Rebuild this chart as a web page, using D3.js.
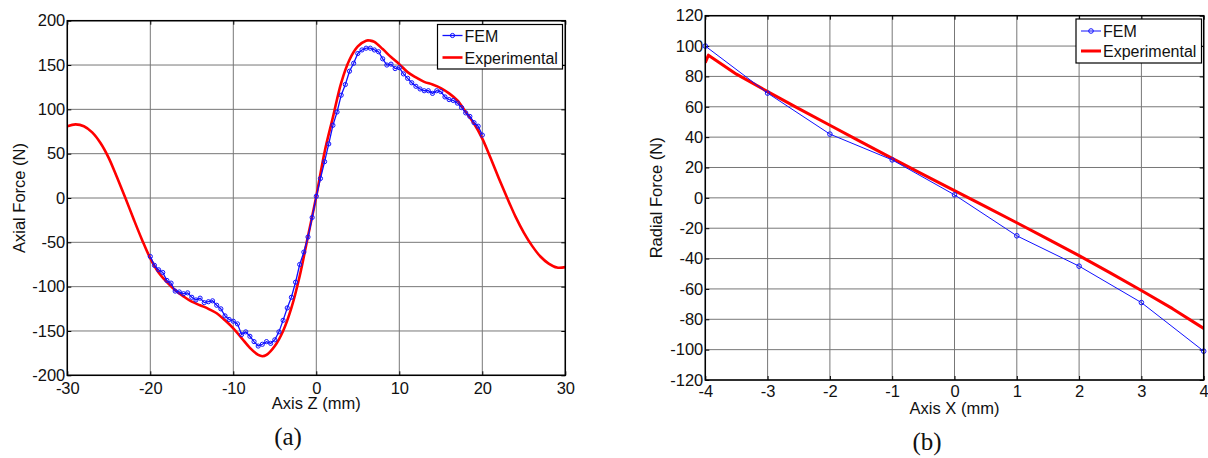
<!DOCTYPE html>
<html>
<head>
<meta charset="utf-8">
<script src="https://cdn.jsdelivr.net/npm/d3@7/dist/d3.min.js"></script>
<style>
  html, body { margin: 0; padding: 0; background: #fff; }
  svg { display: block; }
  text { font-family: "Liberation Sans", Arial, sans-serif; fill: #111; }
</style>
</head>
<body>
<svg id="chart" width="1208" height="458"></svg>
<script>
// ---------- Data ----------
const femAxialZ = [-20,-19.5,-19,-18.5,-18,-17.5,-17,-16.5,-16,-15.5,-15,-14.5,-14,-13.5,-13,-12.5,-12,-11.5,-11,-10.5,
  -10,-9.5,-9,-8.5,-8,-7.5,-7,-6.5,-6,-5.5,-5,-4.5,-4,-3.5,-3,-2.5,-2,-1.5,-1,-0.5,
  0,0.5,1,1.5,2,2.5,3,3.5,4,4.5,5,5.5,6,6.5,7,7.5,8,8.5,9,9.5,
  10,10.5,11,11.5,12,12.5,13,13.5,14,14.5,15,15.5,16,16.5,17,17.5,18,18.5,19,19.5,20];
const femAxialF = [-66,-76,-81,-84,-93,-96,-105,-106,-108,-107,-112,-115,-113,-118,-117,-116,-121,-125,-133,-137,
  -139,-142,-154,-151,-156,-162,-167,-165,-162,-164,-160,-151,-138,-124,-112,-95,-75,-61,-44,-22,
  2,22,41,61,82,97,116,128,143,152,163,167,169,169,167,165,157,150,151,146,
  147,140,135,130,126,123,121,121,118,121,120,114,111,110,107,102,96,92,85,81,71];

const expAxialZ = [-30,-29,-28,-27,-26,-25,-24,-23,-22,-21,-20,-19,-18,-17,-16,-15,-14,-13,-12,-11,-10,-9,-8,-7,-6.5,-6,-5,-4,-3,-2,-1,
  0,1,2,3,4,5,6,6.5,7,8,9,10,11,12,13,14,15,16,17,18,19,20,21,22,23,24,25,26,27,28,29,30];
const expAxialF = [81,83,81,74,62,45,23,0,-24,-47,-68,-84,-95,-104,-111,-117,-121,-125,-130,-138,-147,-158,-169,-177,-178.5,-177,-167,-150,-124,-88,-43,
  2,52,91,130,156,171,177.5,177.5,176,168,159,151,142,136,131,128,124,118,110,97,84,67,45,22,0,-21,-39,-54,-66,-74,-78.5,-78];

const femRadialX = [-4,-3,-2,-1,0,1,2,3,4];
const femRadialF = [100,69,42,25,2,-25,-45,-69,-101];

const expRadialX = [-4,-3.95,-3.5,-3,-2.5,-2,-1.5,-1,-0.5,0,0.5,1,1.5,2,2.5,3,3.5,4];
const expRadialF = [89,94,81.5,70,58.8,47.8,36.9,26,15.3,4.8,-5.8,-16.4,-27.2,-38.1,-49.4,-61,-73,-86];

const axialXTicks = [-30,-20,-10,0,10,20,30];
const axialYTicks = [-200,-150,-100,-50,0,50,100,150,200];
const radialXTicks = [-4,-3,-2,-1,0,1,2,3,4];
const radialYTicks = [-120,-100,-80,-60,-40,-20,0,20,40,60,80,100,120];

const seriesNames = ["FEM", "Experimental"];

// ---------- Drawing ----------
const svg = d3.select("#chart");
svg.append("rect").attr("width",1208).attr("height",458).attr("fill","#fff");
const plain = d => String(d);  // ASCII hyphen-minus, as in the reference

function panel(cfg) {
  const x = d3.scaleLinear().domain(cfg.xDomain).range(cfg.xRange);
  const y = d3.scaleLinear().domain(cfg.yDomain).range(cfg.yRange);
  const g = svg.append("g");
  const [x0, x1] = cfg.xRange, [y0, y1] = [cfg.yRange[1], cfg.yRange[0]];

  // grid
  g.append("g").selectAll("line").data(cfg.xTicks).join("line")
    .attr("x1", d => x(d)).attr("x2", d => x(d)).attr("y1", y0).attr("y2", y1)
    .attr("stroke", "#777").attr("stroke-width", 1);
  g.append("g").selectAll("line").data(cfg.yTicks).join("line")
    .attr("y1", d => y(d)).attr("y2", d => y(d)).attr("x1", x0).attr("x2", x1)
    .attr("stroke", "#777").attr("stroke-width", 1);

  // axes
  const fs = "16.5px";
  const bottom = g.append("g").attr("transform", `translate(0,${y1})`)
    .call(d3.axisBottom(x).tickValues(cfg.xTicks).tickFormat(plain).tickSizeInner(-4).tickSizeOuter(0).tickPadding(cfg.xPad));
  const left = g.append("g").attr("transform", `translate(${x0},0)`)
    .call(d3.axisLeft(y).tickValues(cfg.yTicks).tickFormat(plain).tickSizeInner(-4).tickSizeOuter(0).tickPadding(2));
  const top = g.append("g").attr("transform", `translate(0,${y0})`)
    .call(d3.axisTop(x).tickValues(cfg.xTicks).tickSizeInner(-4).tickSizeOuter(0).tickFormat(""));
  const right = g.append("g").attr("transform", `translate(${x1},0)`)
    .call(d3.axisRight(y).tickValues(cfg.yTicks).tickSizeInner(-4).tickSizeOuter(0).tickFormat(""));
  [bottom, left, top, right].forEach(a => {
    a.select(".domain").remove();
    a.selectAll(".tick line").attr("stroke", "#000").attr("stroke-width", 1);
    a.selectAll("text").attr("font-size", fs).attr("font-family", '"Liberation Sans", Arial, sans-serif').attr("fill", "#111");
  });

  // clip
  const clipId = "clip" + cfg.id;
  svg.append("clipPath").attr("id", clipId).append("rect")
    .attr("x", x0).attr("y", y0).attr("width", x1 - x0).attr("height", y1 - y0);
  const plot = g.append("g").attr("clip-path", `url(#${clipId})`);

  // experimental line
  const expData = cfg.expX.map((v, i) => [v, cfg.expF[i]]);
  plot.append("path").datum(expData)
    .attr("d", d3.line().x(d => x(d[0])).y(d => y(d[1])).curve(cfg.expCurve))
    .attr("fill", "none").attr("stroke", "#ff0000").attr("stroke-width", cfg.expWidth)
    .attr("stroke-linejoin", "round");

  // FEM line
  const femData = cfg.femX.map((v, i) => [v, cfg.femF[i]]);
  plot.append("path").datum(femData)
    .attr("d", d3.line().x(d => x(d[0])).y(d => y(d[1])))
    .attr("fill", "none").attr("stroke", "#1010ff").attr("stroke-width", cfg.femWidth);
  g.append("g").selectAll("circle").data(femData).join("circle")
    .attr("cx", d => x(d[0])).attr("cy", d => y(d[1])).attr("r", cfg.markR)
    .attr("fill", "none").attr("stroke", "#1010ff").attr("stroke-width", 1);

  // frame
  g.append("rect").attr("x", x0).attr("y", y0).attr("width", x1 - x0).attr("height", y1 - y0)
    .attr("fill", "none").attr("stroke", "#000").attr("stroke-width", 1.5);

  // axis labels
  g.append("text").attr("x", (x0 + x1) / 2).attr("y", cfg.xLabelY).attr("text-anchor", "middle")
    .attr("font-size", "16.5px").text(cfg.xLabel);
  g.append("text").attr("transform", `translate(${cfg.yLabelX},${(y0 + y1) / 2}) rotate(-90)`)
    .attr("text-anchor", "middle").attr("font-size", "16.5px").text(cfg.yLabel);

  // legend
  const L = cfg.legend;
  const lg = g.append("g");
  lg.append("rect").attr("x", L.x).attr("y", L.y).attr("width", L.w).attr("height", L.h)
    .attr("fill", "#fff").attr("stroke", "#000").attr("stroke-width", 1.2);
  const rows = [
    { name: seriesNames[0], color: "#1010ff", width: cfg.femWidth, marker: true },
    { name: seriesNames[1], color: "#ff0000", width: cfg.expWidth, marker: false }
  ];
  rows.forEach((r, i) => {
    const ly = L.y + L.row0 + i * L.rowGap;
    lg.append("line").attr("x1", L.x + 5).attr("x2", L.x + 25).attr("y1", ly).attr("y2", ly)
      .attr("stroke", r.color).attr("stroke-width", r.width);
    if (r.marker) lg.append("circle").attr("cx", L.x + 15).attr("cy", ly).attr("r", cfg.markR)
      .attr("fill", "none").attr("stroke", r.color).attr("stroke-width", 1);
    lg.append("text").attr("x", L.x + 27).attr("y", ly + 6).attr("font-size", "16px").text(r.name);
  });

  // caption
  svg.append("text").attr("x", cfg.capX).attr("y", cfg.capY).attr("text-anchor", "middle")
    .style("font-family", '"Liberation Serif", "Times New Roman", serif')
    .attr("font-size", "25px").text(cfg.caption);
}

panel({
  id: "a",
  xDomain: [-30, 30], xRange: [67.3, 565.3],
  yDomain: [-200, 200], yRange: [375.3, 20.7],
  xTicks: axialXTicks, yTicks: axialYTicks, xPad: 7,
  femX: femAxialZ, femF: femAxialF, expX: expAxialZ, expF: expAxialF,
  expCurve: d3.curveCatmullRom, expWidth: 2.6, femWidth: 1.3, markR: 2.1,
  xLabel: "Axis Z (mm)", xLabelY: 409, yLabel: "Axial Force (N)", yLabelX: 25,
  legend: { x: 437.5, y: 24.5, w: 125, h: 44.5, row0: 11, rowGap: 22 },
  caption: "(a)", capX: 288, capY: 444.5
});

panel({
  id: "b",
  xDomain: [-4, 4], xRange: [705.3, 1203.7],
  yDomain: [-120, 120], yRange: [380, 15.7],
  xTicks: radialXTicks, yTicks: radialYTicks, xPad: 5.5,
  femX: femRadialX, femF: femRadialF, expX: expRadialX, expF: expRadialF,
  expCurve: d3.curveLinear, expWidth: 3, femWidth: 1, markR: 2.3,
  xLabel: "Axis X (mm)", xLabelY: 414, yLabel: "Radial Force (N)", yLabelX: 661.5,
  legend: { x: 1076, y: 19, w: 125.5, h: 44, row0: 12, rowGap: 20 },
  caption: "(b)", capX: 927, capY: 450
});
</script>
</body>
</html>
